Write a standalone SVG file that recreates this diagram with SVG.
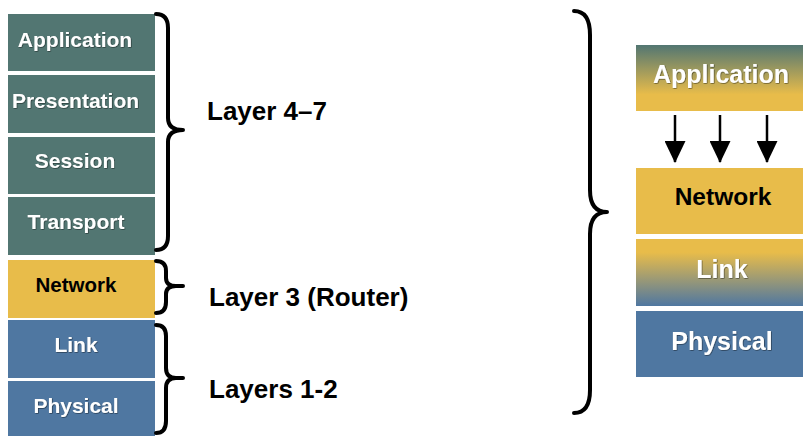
<svg xmlns="http://www.w3.org/2000/svg" width="803" height="436" viewBox="0 0 803 436">
<defs>
<linearGradient id="gApp" x1="0" y1="0" x2="0" y2="1">
<stop offset="0" stop-color="#527672"/>
<stop offset="0.75" stop-color="#E8BC4A"/>
<stop offset="1" stop-color="#E8BC4A"/>
</linearGradient>
<linearGradient id="gLink" x1="0" y1="0" x2="0" y2="1">
<stop offset="0" stop-color="#E8BC4A"/>
<stop offset="0.2" stop-color="#E8BC4A"/>
<stop offset="1" stop-color="#4F77A1"/>
</linearGradient>
<filter id="sh" x="-10%" y="-20%" width="120%" height="140%">
<feDropShadow dx="0.6" dy="0.6" stdDeviation="0.5" flood-color="#000" flood-opacity="0.6"/>
</filter>
<marker id="ah" viewBox="0 0 22 21" refX="21" refY="10.5" markerWidth="22" markerHeight="21" markerUnits="userSpaceOnUse" orient="auto">
<path d="M0,0 L22,10.5 L0,21 Z" fill="#000"/>
</marker>
</defs>
<style>
.teal{fill:#527672}
.gold{fill:#E8BC4A}
.blue{fill:#4F77A1}
.t{font-family:"Liberation Sans",Arial,sans-serif;font-weight:bold;text-anchor:middle}
.w{fill:#fff;filter:url(#sh)}
.k{fill:#000}
.lbl{font-family:"Liberation Sans",Arial,sans-serif;font-weight:bold;font-size:26px;fill:#000}
.brace{fill:none;stroke:#000;stroke-width:4;stroke-linecap:round;stroke-linejoin:round}
.arr{stroke:#000;stroke-width:2.5}
</style>
<rect width="803" height="436" fill="#fff"/>
<g id="left-application"><rect class="teal" x="8" y="14" width="147" height="57"/><text class="t w" x="75" y="47" font-size="21">Application</text></g>
<g id="left-presentation"><rect class="teal" x="8" y="75" width="147" height="58"/><text class="t w" x="75.5" y="108" font-size="21">Presentation</text></g>
<g id="left-session"><rect class="teal" x="8" y="137" width="147" height="57"/><text class="t w" x="75" y="168" font-size="21">Session</text></g>
<g id="left-transport"><rect class="teal" x="8" y="197" width="147" height="58"/><text class="t w" x="76" y="229" font-size="21">Transport</text></g>
<g id="left-network"><rect class="gold" x="8" y="260" width="147" height="58"/><text class="t k" x="76" y="292" font-size="20.5">Network</text></g>
<g id="left-link"><rect class="blue" x="8" y="320" width="147" height="58"/><text class="t w" x="76" y="352" font-size="21">Link</text></g>
<g id="left-physical"><rect class="blue" x="8" y="381" width="147" height="60"/><text class="t w" x="76" y="413" font-size="21">Physical</text></g>
<g id="label-47"><text class="lbl" x="207" y="120">Layer 4–7</text></g>
<g id="label-3"><text class="lbl" x="209" y="306">Layer 3 (Router)</text></g>
<g id="label-12"><text class="lbl" x="209" y="398">Layers 1-2</text></g>
<g id="right-application"><rect fill="url(#gApp)" x="636" y="45" width="167" height="66"/><text class="t w" x="721" y="83" font-size="25">Application</text></g>
<g id="right-network"><rect class="gold" x="636" y="168" width="167" height="66"/><text class="t k" x="723" y="205" font-size="24.5">Network</text></g>
<g id="right-link"><rect fill="url(#gLink)" x="636" y="239" width="167" height="67"/><text class="t w" x="722" y="278" font-size="25">Link</text></g>
<g id="right-physical"><rect class="blue" x="636" y="311" width="167" height="66"/><text class="t w" x="722" y="350" font-size="25">Physical</text></g>
<g id="connectors">
<path class="brace" d="M156,14 Q168,14 168,28 L168,118 Q168,130 183,130 Q168,130 168,142 L168,236 Q168,250 156,250"/>
<path class="brace" d="M156,261 Q166,261 166,271 L166,278 Q166,286 176,286 L183,286 M176,286 Q166,286 166,294 L166,302 Q166,313 156,313"/>
<path class="brace" d="M156,325 Q166,325 166,336 L166,368 Q166,378 176,378 L183,378 M176,378 Q166,378 166,388 L166,421 Q166,433 156,433"/>
<path class="brace" stroke-width="5" d="M574,11 Q590,11 590,35 L590,190 Q590,212 607,212 Q590,212 590,234 L590,390 Q590,413 574,413"/>
<line class="arr" x1="675" y1="115" x2="675" y2="162" marker-end="url(#ah)"/>
<line class="arr" x1="720" y1="115" x2="720" y2="162" marker-end="url(#ah)"/>
<line class="arr" x1="767" y1="115" x2="767" y2="162" marker-end="url(#ah)"/>
</g>
</svg>
